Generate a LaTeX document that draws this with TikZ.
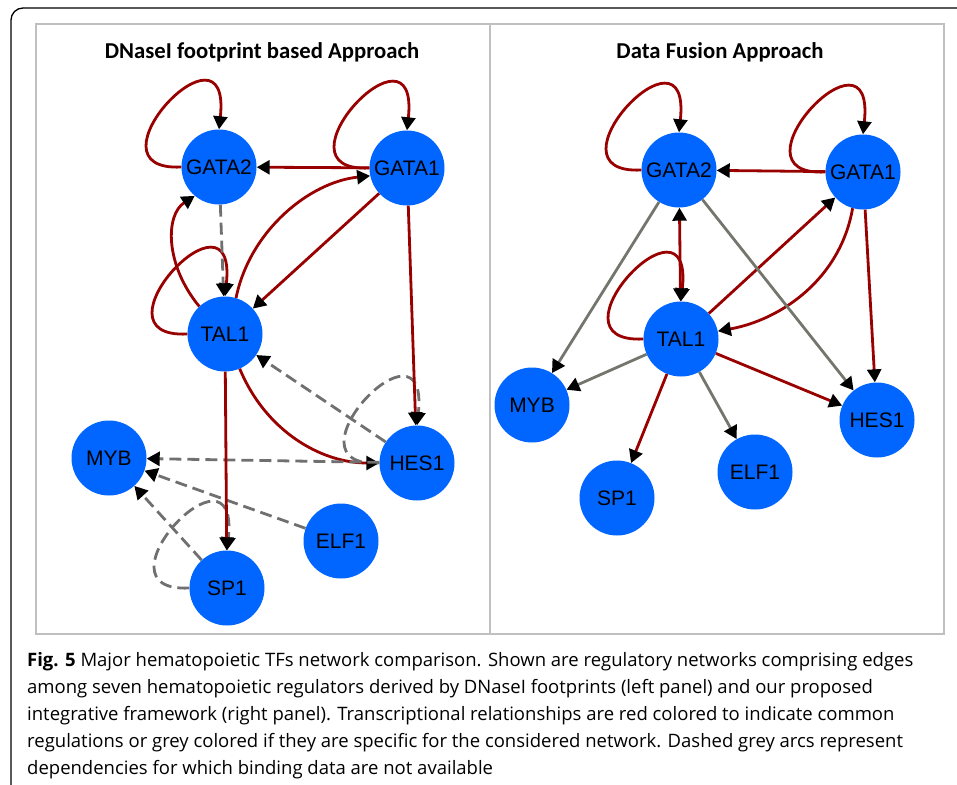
\documentclass[tikz,border=0pt]{standalone}
\usepackage{fontspec}
\setmainfont{Liberation Sans}
\newfontfamily\titlefont{Carlito}
\newfontfamily\capfont{Open Sans}
\usetikzlibrary{arrows.meta}

\definecolor{nodeblue}{RGB}{0,102,255}
\definecolor{edgered}{RGB}{153,0,0}
\definecolor{edgegrey}{RGB}{112,112,112}
\definecolor{solidgrey}{RGB}{115,118,108}
\definecolor{panelgrey}{RGB}{192,192,192}

\tikzset{
  tf/.style={circle, fill=nodeblue, minimum size=75pt, inner sep=0pt,
    font=\fontsize{21}{23}\selectfont, text=black},
  tip/.style={-{Triangle[length=13pt,width=14pt,color=black]}},
  bitip/.style={{Triangle[length=13pt,width=14pt,color=black]}-{Triangle[length=13pt,width=14pt,color=black]}},
  common/.style={draw=edgered, line width=2.8pt, tip},
  specific/.style={draw=solidgrey, line width=2.8pt, tip},
  nodata/.style={draw=edgegrey, line width=2.8pt, dash pattern=on 12pt off 6pt, tip},
  paneltitle/.style={font=\titlefont\bfseries\fontsize{22.7}{26}\selectfont},
  capline/.style={anchor=base west, inner sep=0pt, font=\capfont\fontsize{18.5}{21}\selectfont}
}

% self loop leaving a node on its left and coming back from above
\newcommand{\selfloop}[2]{%
  \draw[#1] (#2.west) .. controls +(-102,5) and +(13,-120) .. (#2.north);}

\begin{document}
\begin{tikzpicture}[x=1pt,y=-1pt]
\useasboundingbox (0,0) rectangle (957,784);

% figure frame and panels
\draw[line width=1.3pt, rounded corners=12pt] (11,800) -- (11,8) -- (975,8);
\draw[panelgrey, line width=1.5pt] (36,24) rectangle (944,634);
\draw[panelgrey, line width=1.5pt] (490,24) -- (490,634);

\node[paneltitle] (t1) at (262,52) {DNaseI footprint based Approach};
\node[paneltitle] (t2) at (720,52) {Data Fusion Approach};

% ---- DNaseI footprint network ----
\node[tf] (lg2) at (219,167) {GATA2};
\node[tf] (lg1) at (407,168) {GATA1};
\node[tf] (lt)  at (225,334) {TAL1};
\node[tf] (lm)  at (109,458) {MYB};
\node[tf] (lh)  at (417,463) {HES1};
\node[tf] (le)  at (341,541) {ELF1};
\node[tf] (ls)  at (227,588) {SP1};

\selfloop{common}{lg2}
\selfloop{common}{lg1}
\selfloop{common}{lt}
\selfloop{nodata}{lh}
\selfloop{nodata}{ls}
\draw[common] (lg1) -- (lg2);
\draw[common] (lt.73) .. controls (250,230) and (310,182) .. (lg1.192);
\draw[common] (lg1) -- (lt);
\draw[common] (lt.133) .. controls (165,265) and (165,215) .. (lg2.230);
\draw[nodata] (lg2) -- (lt);
\draw[common] (lg1) -- (lh);
\draw[common] (lt.-67) .. controls (265,430) and (320,463) .. (lh.west);
\draw[nodata] (lh) -- (lt);
\draw[nodata] (lh) -- (lm);
\draw[nodata] (le) -- (lm);
\draw[nodata] (ls) -- (lm);
\draw[common] (lt) -- (ls);

% ---- data fusion network ----
\node[tf] (rg2) at (679,170) {GATA2};
\node[tf] (rg1) at (863,172) {GATA1};
\node[tf] (rt)  at (681,339) {TAL1};
\node[tf] (rm)  at (532,405) {MYB};
\node[tf] (rh)  at (877,420) {HES1};
\node[tf] (re)  at (755,472) {ELF1};
\node[tf] (rs)  at (617,498) {SP1};

\selfloop{common}{rg2}
\selfloop{common}{rg1}
\selfloop{common}{rt}
\draw[common] (rg1) -- (rg2);
\draw[common, bitip] (rg2) -- (rt);
\draw[common] (rt) -- (rg1);
\draw[common] (rg1.254) .. controls (840,280) and (780,320) .. (rt.12);
\draw[common] (rg1) -- (rh);
\draw[specific] (rg2) -- (rm);
\draw[specific] (rg2) -- (rh);
\draw[specific] (rt) -- (rm);
\draw[common] (rt) -- (rh);
\draw[common] (rt) -- (rs);
\draw[specific] (rt) -- (re);

% ---- caption ----
\node[capline] (c1) at (27,666) {\textbf{Fig. 5} Major hematopoietic TFs network comparison. Shown are regulatory networks comprising edges};
\node[capline] (c2) at (27,693) {among seven hematopoietic regulators derived by DNaseI footprints (left panel) and our proposed};
\node[capline] (c3) at (27,720) {integrative framework (right panel). Transcriptional relationships are red colored to indicate common};
\node[capline] (c4) at (27,747) {regulations or grey colored if they are specific for the considered network. Dashed grey arcs represent};
\node[capline] (c5) at (27,774) {dependencies for which binding data are not available};
\end{tikzpicture}
\end{document}
